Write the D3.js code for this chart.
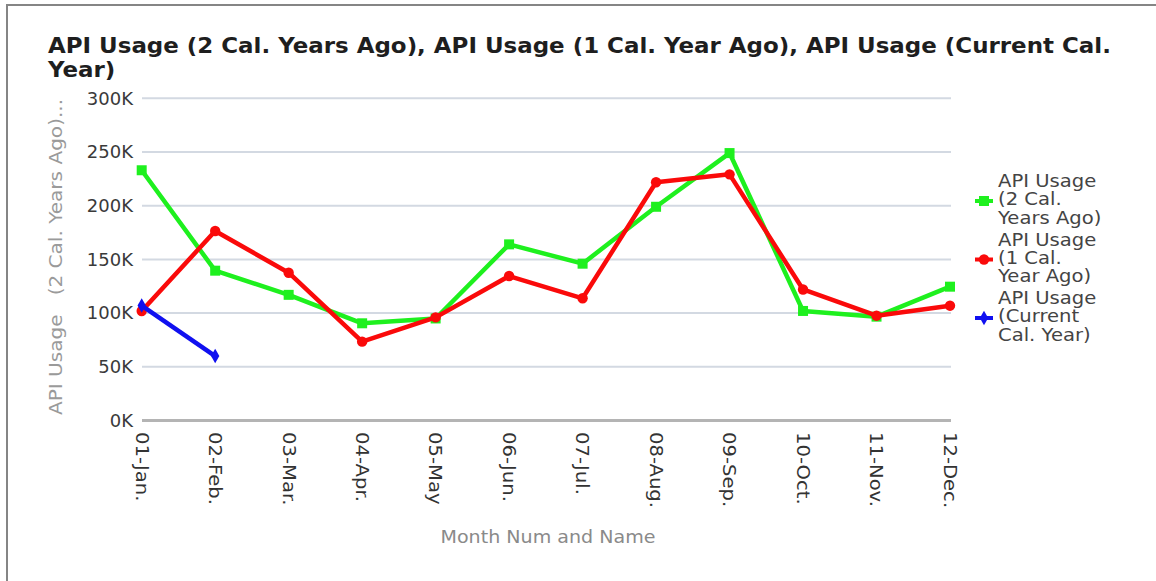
<!DOCTYPE html>
<html>
<head>
<meta charset="utf-8">
<script src="https://cdn.jsdelivr.net/npm/d3@7"></script>
<style>
  html, body { margin: 0; padding: 0; background: #fff; }
  svg { display: block; font-family: "DejaVu Sans", sans-serif; }
</style>
</head>
<body>
<div id="chart"></div>
<script>
// chart data
var months = ["01-Jan.", "02-Feb.", "03-Mar.", "04-Apr.", "05-May", "06-Jun.",
              "07-Jul.", "08-Aug.", "09-Sep.", "10-Oct.", "11-Nov.", "12-Dec."];

var usage_2_years_ago = [233000, 139500, 117000, 90500, 95000, 164000,
                         146000, 199000, 249000, 102000, 96700, 124600];
var usage_1_year_ago = [102000, 176400, 137600, 73400, 96000, 134500,
                        113800, 221800, 229200, 122000, 97600, 106900];
var usage_current = [107000, 60000];

var y_ticks = [0, 50000, 100000, 150000, 200000, 250000, 300000];

var series_names = [
    ["API Usage", "(2 Cal.", "Years Ago)"],
    ["API Usage", "(1 Cal.", "Year Ago)"],
    ["API Usage", "(Current", "Cal. Year)"]
];

var title_lines = ["API Usage (2 Cal. Years Ago), API Usage (1 Cal. Year Ago), API Usage (Current Cal.",
                   "Year)"];

var W = 1156, H = 581;
// plot area ("top" is taken by window.top, so keep names prefixed)
var plot_left = 142, plot_right = 951, plot_top = 98.3, plot_bottom = 420.5;

var svg = d3.select("#chart").append("svg")
    .attr("width", W)
    .attr("height", H);

// outer frame
svg.append("rect")
    .attr("x", 7).attr("y", 5)
    .attr("width", 1170).attr("height", 620)
    .attr("fill", "none")
    .attr("stroke", "#858585")
    .attr("stroke-width", 2);

// title, two lines
var title = svg.append("g")
    .attr("transform", "translate(48,53) scale(1.12,1)");
title.selectAll("text")
    .data(title_lines)
    .enter()
    .append("text")
    .attr("x", 0)
    .attr("y", function(d, i) { return i * 24; })
    .attr("font-size", 20.5)
    .attr("font-weight", "bold")
    .attr("fill", "#1e1e1e")
    .text(function(d) { return d; });

var x = d3.scalePoint()
    .domain(months)
    .range([141.7, 950]);

var y = d3.scaleLinear()
    .domain([0, 300000])
    .range([plot_bottom, plot_top]);

// grid lines
svg.append("g")
    .selectAll("line")
    .data(y_ticks.slice(1))
    .enter()
    .append("line")
    .attr("x1", plot_left).attr("x2", plot_right)
    .attr("y1", function(d) { return y(d); })
    .attr("y2", function(d) { return y(d); })
    .attr("stroke", "#d3d9e2")
    .attr("stroke-width", 2);

// baseline
svg.append("line")
    .attr("x1", plot_left).attr("x2", plot_right)
    .attr("y1", y(0)).attr("y2", y(0))
    .attr("stroke", "#b4b4b4")
    .attr("stroke-width", 3);

// y axis labels
var y_axis = svg.append("g")
    .attr("transform", "translate(133,0)")
    .call(d3.axisLeft(y)
        .tickValues(y_ticks)
        .tickSize(0)
        .tickPadding(0)
        .tickFormat(function(d) { return (d / 1000) + "K"; }));
y_axis.select(".domain").remove();
y_axis.selectAll("text")
    .attr("font-family", "DejaVu Sans")
    .attr("font-size", 18)
    .attr("fill", "#3a3a3a");

// x axis labels, rotated
svg.append("g")
    .selectAll("text")
    .data(months)
    .enter()
    .append("text")
    .attr("transform", function(d) {
        return "translate(" + x(d) + ",432) rotate(90) scale(1.12,1)";
    })
    .attr("dy", "0.35em")
    .attr("font-size", 17.5)
    .attr("fill", "#333")
    .text(function(d) { return d; });

// axis titles
svg.append("text")
    .attr("transform", "translate(62,415) rotate(-90) scale(1.18,1)")
    .attr("font-size", 17)
    .attr("fill", "#9a9a9a")
    .attr("xml:space", "preserve")
    .style("white-space", "pre")
    .text("API Usage   (2 Cal. Years Ago)...");

svg.append("text")
    .attr("transform", "translate(548,543) scale(1.09,1)")
    .attr("text-anchor", "middle")
    .attr("font-size", 17.5)
    .attr("fill", "#8a8a8a")
    .text("Month Num and Name");

// lines and markers
var line = d3.line()
    .x(function(d, i) { return x(months[i]); })
    .y(function(d) { return y(d); });

var series = [
    {values: usage_2_years_ago, color: "#1ef01e", symbol: d3.symbolSquare, size: 100},
    {values: usage_1_year_ago, color: "#fa0a0a", symbol: d3.symbolCircle, size: 85},
    {values: usage_current, color: "#1010f0", symbol: d3.symbolDiamond, size: 60}
];

series.forEach(function(s) {
    svg.append("path")
        .datum(s.values)
        .attr("d", line)
        .attr("fill", "none")
        .attr("stroke", s.color)
        .attr("stroke-width", 4.5)
        .attr("stroke-linejoin", "round");

    svg.append("g")
        .selectAll("path")
        .data(s.values)
        .enter()
        .append("path")
        .attr("transform", function(d, i) {
            return "translate(" + x(months[i]) + "," + y(d) + ")";
        })
        .attr("d", d3.symbol().type(s.symbol).size(s.size))
        .attr("fill", s.color);
});

// legend
var legend = svg.append("g")
    .selectAll("g")
    .data(series)
    .enter()
    .append("g")
    .attr("transform", function(d, i) { return "translate(0," + (i * 58.5) + ")"; });

legend.append("line")
    .attr("x1", 975).attr("x2", 993)
    .attr("y1", 201).attr("y2", 201)
    .attr("stroke", function(d) { return d.color; })
    .attr("stroke-width", 4);

legend.append("path")
    .attr("transform", "translate(984,201)")
    .attr("d", function(d) { return d3.symbol().type(d.symbol).size(d.size)(); })
    .attr("fill", function(d) { return d.color; });

legend.append("text")
    .attr("transform", "translate(998,187) scale(1.12,1)")
    .attr("font-size", 17.5)
    .attr("fill", "#444")
    .selectAll("tspan")
    .data(function(d, i) { return series_names[i]; })
    .enter()
    .append("tspan")
    .attr("x", 0)
    .attr("y", function(d, i) { return i * 18.5; })
    .text(function(d) { return d; });
</script>
</body>
</html>
